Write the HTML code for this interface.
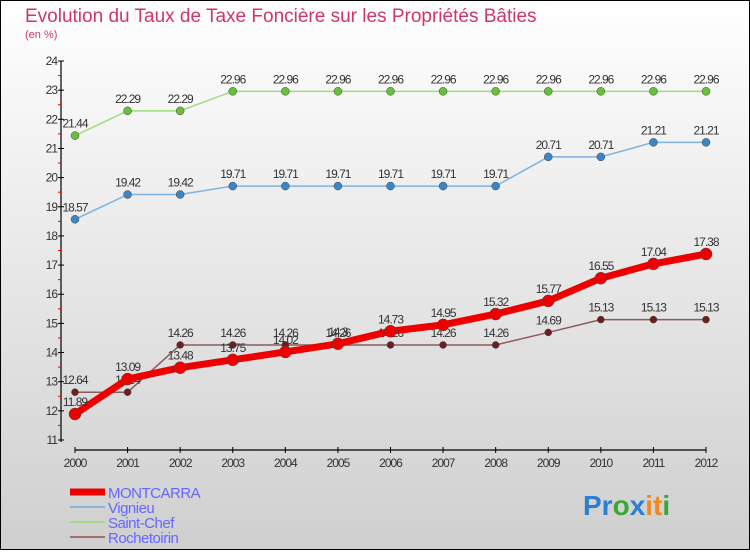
<!DOCTYPE html>
<html><head><meta charset="utf-8"><style>
body{margin:0;width:750px;height:550px;overflow:hidden;font-family:"Liberation Sans",sans-serif}
svg text{font-family:"Liberation Sans",sans-serif}
</style></head><body>
<svg id="c" width="750" height="550" viewBox="0 0 750 550" xmlns="http://www.w3.org/2000/svg">
<defs><linearGradient id="bg" x1="0" y1="0" x2="0" y2="1"><stop offset="0" stop-color="#ffffff"/><stop offset="1" stop-color="#cfcfcf"/></linearGradient></defs>
<rect x="0.5" y="0.5" width="749" height="549" fill="url(#bg)" stroke="#000"/>
<text x="25" y="22" font-size="19" fill="#d0356f">Evolution du Taux de Taxe Foncière sur les Propriétés Bâties</text>
<text x="25" y="38" font-size="11" fill="#d0356f">(en %)</text>
<g id="axes"></g><g id="series"></g>
<g id="legend"></g>
<text x="583" y="515" font-size="28" font-weight="bold"><tspan fill="#2a7fd0">Pr</tspan><tspan fill="#3aa835">o</tspan><tspan fill="#2a7fd0">x</tspan><tspan fill="#f08a1c">it</tspan><tspan fill="#3aa835">i</tspan></text>
</svg>
<script>
const years=[2000,2001,2002,2003,2004,2005,2006,2007,2008,2009,2010,2011,2012];
const montcarra=[11.89,13.09,13.48,13.75,14.02,14.3,14.73,14.95,15.32,15.77,16.55,17.04,17.38];
const vignieu=[18.57,19.42,19.42,19.71,19.71,19.71,19.71,19.71,19.71,20.71,20.71,21.21,21.21];
const saintChef=[21.44,22.29,22.29,22.96,22.96,22.96,22.96,22.96,22.96,22.96,22.96,22.96,22.96];
const rochetoirin=[12.64,12.64,14.26,14.26,14.26,14.26,14.26,14.26,14.26,14.69,15.13,15.13,15.13];
const yTicks=[11,12,13,14,15,16,17,18,19,20,21,22,23,24];
const NS="http://www.w3.org/2000/svg";
const X=i=>75+i*(706-75)/12;
const Y=v=>61+(24-v)*(440-61)/13;
function mk(t,a,p){const e=document.createElementNS(NS,t);for(const k in a)e.setAttribute(k,a[k]);p.appendChild(e);return e;}
const ax=document.getElementById('axes');
let e=mk('line',{x1:61,y1:Y(24),x2:61,y2:Y(11)+2,stroke:'#000','stroke-width':1.2},ax);

e=mk('line',{x1:X(0),y1:450,x2:X(12),y2:450,stroke:'#000','stroke-width':1.2},ax);

yTicks.forEach(v=>{
 mk('line',{x1:58,y1:Y(v),x2:64,y2:Y(v),stroke:'#000'},ax);
 if(v<24)mk('line',{x1:58,y1:Y(v+0.5),x2:61,y2:Y(v+0.5),stroke:'#e00'},ax);
 const t=mk('text',{x:57,y:Y(v)+4,'text-anchor':'end','font-size':12,fill:'#333','letter-spacing':'-1'},ax);
 t.textContent=v;
 
});
years.forEach((y,i)=>{
 mk('line',{x1:X(i),y1:447,x2:X(i),y2:453,stroke:'#000'},ax);
 const t=mk('text',{x:X(i),y:467,'text-anchor':'middle','font-size':12,fill:'#333','letter-spacing':'-1'},ax);
 t.textContent=y;
 
});
const sg=document.getElementById('series');
function series(name,vals,color,dot,w,r){
 const g=mk('g',{},sg);
 
 const l=mk('polyline',{points:vals.map((v,i)=>X(i)+','+Y(v)).join(' '),fill:'none',stroke:color,'stroke-width':w,'stroke-linejoin':'round'},g);
 
 vals.forEach((v,i)=>{
  const c=mk('circle',{cx:X(i),cy:Y(v),r:r,fill:dot,stroke:'#444','stroke-width':0.5},g);
  
  const t=mk('text',{x:X(i),y:Y(v)-8,'text-anchor':'middle','font-size':12,fill:'#333','letter-spacing':'-1'},g);
  t.textContent=v.toFixed(2).replace(/0$/,'').replace(/\.$/,'');
  
 });
}
series('saint-chef',saintChef,'#9fdc7c','#66c03a',1.5,4);
series('vignieu',vignieu,'#7fb2dc','#3a86c6',1.5,4);
series('rochetoirin',rochetoirin,'#8b5a5a','#6b1f1f',1.5,3.5);
series('montcarra',montcarra,'#ee0000','#ee0000',7,6);
const lg=document.getElementById('legend');
[['MONTCARRA','#ee0000',7,494],['Vignieu','#88b4d8',2,509],['Saint-Chef','#a2dc86',2,524],['Rochetoirin','#a07070',2,539]].forEach(([n,c,w,y])=>{
 const l=mk('line',{x1:70,y1:y-2,x2:105,y2:y-2,stroke:c,'stroke-width':w},lg);
 
 const t=mk('text',{x:108,y:y+4,'font-size':15,fill:'#6666ff','letter-spacing':'-0.5'},lg);
 t.textContent=n;
 
});
</script>
</body></html>
